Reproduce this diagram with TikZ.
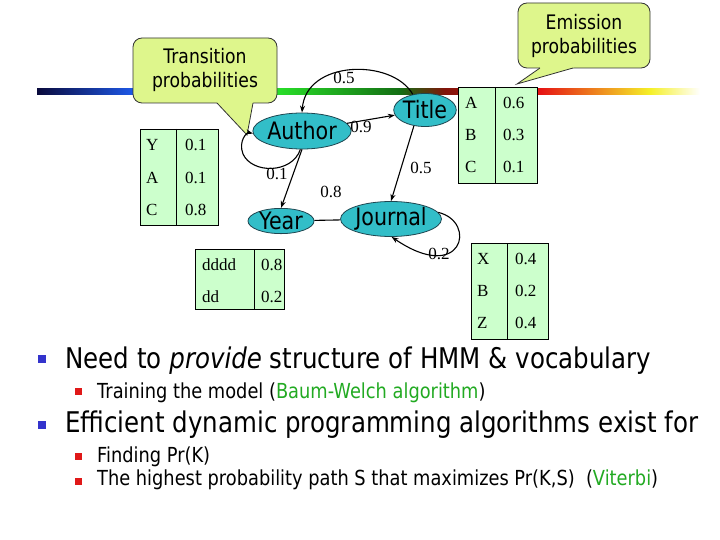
\documentclass[tikz,border=0pt]{standalone}
\usepackage{fontspec}
\setmainfont{Liberation Serif}
\newfontfamily\tah{DejaVu Sans}[FakeStretch=0.86]
\usetikzlibrary{shapes.geometric,arrows.meta}
\definecolor{callfill}{RGB}{222,246,140}
\definecolor{statefill}{RGB}{50,190,200}
\definecolor{stateline}{RGB}{30,70,80}
\definecolor{tabfill}{RGB}{204,255,204}
\definecolor{hgreen}{RGB}{34,170,34}
\definecolor{bblue}{RGB}{51,51,204}
\definecolor{bred}{RGB}{224,24,24}
\definecolor{cnavy}{RGB}{10,10,60}
\definecolor{cblue}{RGB}{30,90,235}
\definecolor{cgreen}{RGB}{40,220,40}
\definecolor{cdgreen}{RGB}{20,110,20}
\definecolor{cdred}{RGB}{130,20,10}
\definecolor{cred}{RGB}{230,20,20}
\definecolor{cyel}{RGB}{245,240,40}
\begin{document}
\begin{tikzpicture}[x=1pt,y=-1pt,
  state/.style={ellipse, draw=stateline, line width=0.8pt, fill=statefill, inner sep=0pt,
    font=\tah\fontsize{24}{26}\selectfont},
  arr/.style={-{Stealth[length=7pt,width=5pt]}, line width=1.1pt},
  plain/.style={line width=1.1pt},
  lab/.style={font=\fontsize{17}{19}\selectfont, inner sep=0pt},
  tab/.style={fill=tabfill, draw=black, line width=0.9pt},
  cell/.style={font=\fontsize{17}{19}\selectfont, inner sep=0pt, anchor=west},
  callbox/.style={fill=callfill, draw=black!80, line width=0.8pt},
  calltext/.style={font=\tah\fontsize{20}{24}\selectfont, align=center, inner sep=0pt},
  bigtext/.style={font=\tah\fontsize{28.5}{34}\selectfont, anchor=base west, inner sep=0pt},
  smalltext/.style={font=\tah\fontsize{20.7}{25}\selectfont, anchor=base west, inner sep=0pt},
  bullA/.style={fill=bblue, minimum size=8pt, inner sep=0pt},
  bullB/.style={fill=bred, minimum size=7pt, inner sep=0pt}]
\useasboundingbox (0,0) rectangle (720,540);
\fill[white] (0,0) rectangle (720,540);

% gradient bar
\shade[left color=cnavy, right color=cblue] (37,89) rectangle (135,95);
\shade[left color=cblue, right color=cgreen] (135,89) rectangle (280,95);
\shade[left color=cgreen, right color=cdgreen] (280,89) rectangle (400,95);
\shade[left color=cdgreen, right color=cdred] (400,89) rectangle (445,95);
\shade[left color=cdred, right color=cred] (445,89) rectangle (540,95);
\shade[left color=cred, right color=cyel] (540,89) rectangle (650,95);
\shade[left color=cyel, right color=white] (650,89) rectangle (700,95);

% callout: transition
\draw[callbox, rounded corners=9pt] (133,38) rectangle (277,103);
\fill[callfill] (217.5,101) -- (253.5,101) -- (253,103) -- (247,135) -- (217,103) -- cycle;
\draw[line width=0.8pt, draw=black!80] (217,103) -- (247,135) -- (253,103);
\node[calltext] (tp) at (205,70) {Transition\\probabilities};

% callout: emission
\draw[callbox, rounded corners=9pt] (518,3) rectangle (650,68);
\fill[callfill] (540,66) -- (574,66) -- (573,68) -- (517,84) -- (540,68) -- cycle;
\draw[line width=0.8pt, draw=black!80] (540,68) -- (517,84) -- (573,68);
\node[calltext] (ep) at (584,36) {Emission\\probabilities};

% tables
\draw[tab] (140,129) rectangle (218,225);
\draw[line width=0.9pt] (176,129) -- (176,225);
\node[cell] (t1a) at (146,145) {Y};  \node[cell] (t1b) at (185,145) {0.1};
\node[cell] (t1c) at (146,178) {A};  \node[cell] (t1d) at (185,178) {0.1};
\node[cell] (t1e) at (146,210) {C};  \node[cell] (t1f) at (185,210) {0.8};

\draw[tab] (458,87) rectangle (537,183);
\draw[line width=0.9pt] (495,87) -- (495,183);
\node[cell] (t2a) at (465,103) {A};  \node[cell] (t2b) at (503,103) {0.6};
\node[cell] (t2c) at (465,135) {B};  \node[cell] (t2d) at (503,135) {0.3};
\node[cell] (t2e) at (465,167) {C};  \node[cell] (t2f) at (503,167) {0.1};

\draw[tab] (471,243) rectangle (548,339);
\draw[line width=0.9pt] (507,243) -- (507,339);
\node[cell] (t3a) at (477,259) {X};  \node[cell] (t3b) at (515,259) {0.4};
\node[cell] (t3c) at (477,291) {B};  \node[cell] (t3d) at (515,291) {0.2};
\node[cell] (t3e) at (477,323) {Z};  \node[cell] (t3f) at (515,323) {0.4};

\draw[tab] (195,249) rectangle (284,309);
\draw[line width=0.9pt] (254,249) -- (254,309);
\node[cell] (t4a) at (202,265) {dddd};  \node[cell] (t4b) at (261,265) {0.8};
\node[cell] (t4c) at (202,297) {dd};    \node[cell] (t4d) at (261,297) {0.2};

% states
\node[state, minimum width=82pt, minimum height=36pt] (au) at (302,131) {Author};
\node[state, minimum width=54pt, minimum height=33pt] (ti) at (425,110) {Title};
\node[state, minimum width=66pt, minimum height=23pt] (ye) at (281,221) {Year};
\node[state, minimum width=97pt, minimum height=35pt] (jo) at (391,219) {Journal};

% edges
\draw[arr] (au) -- (ti);
\draw[arr] (ti.128) .. controls (392,58) and (306,60) .. (au.north);
\draw[arr] (au.265) .. controls (292,174) and (252,174) .. (243,154)
           .. controls (238,141) and (247,132) .. (au.183);
\draw[arr] (au.south) -- (ye.north);
\draw[plain] (ye) -- (jo);
\draw[arr] (ti.235) -- (jo.north);
\draw[arr] (jo.8) .. controls (478,222) and (462,285) .. (jo.272);

% edge labels
\node[lab] (l05a) at (344,78) {0.5};
\node[lab] (l09) at (361,127) {0.9};
\node[lab] (l01) at (277,174) {0.1};
\node[lab] (l08) at (331,192) {0.8};
\node[lab] (l05b) at (421,168) {0.5};
\node[lab] (l02) at (439,254) {0.2};

% bullets
\node[bullA] (b1) at (42,359) {};
\node[bigtext] (x1) at (65,368) {Need to {\itshape provide} structure of HMM \& vocabulary};
\node[bullB] (b2) at (78.5,391.5) {};
\node[smalltext] (x2) at (97,398) {Training the model (\textcolor{hgreen}{Baum-Welch algorithm})};
\node[bullA] (b3) at (42,425) {};
\node[bigtext] (x3) at (65,432) {Efficient dynamic programming algorithms exist for};
\node[bullB] (b4) at (78.5,456.5) {};
\node[smalltext] (x4) at (97,462) {Finding Pr(K)};
\node[bullB] (b5) at (78.5,481) {};
\node[smalltext] (x5) at (97,485) {The highest probability path S that maximizes Pr(K,S)~~(\textcolor{hgreen}{Viterbi})};
\end{tikzpicture}
\end{document}
